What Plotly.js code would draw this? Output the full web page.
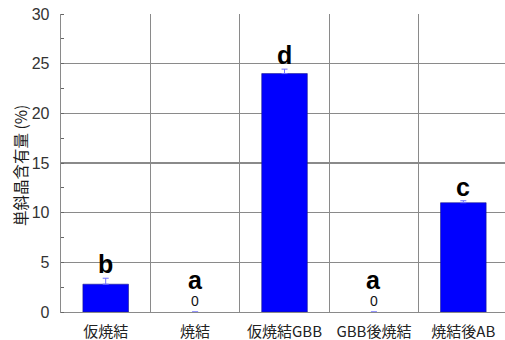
<!DOCTYPE html>
<html>
<head>
<meta charset="utf-8">
<script src="https://cdn.plot.ly/plotly-3.0.1.min.js"></script>
<style>
  html, body { margin: 0; padding: 0; background: #fff; }
  #chart { width: 505px; height: 340px; }
</style>
</head>
<body>
<div id="chart"></div>
<script>
// Monoclinic phase content for each processing route
const categories = ['仮焼結', '焼結', '仮焼結GBB', 'GBB後焼結', '焼結後AB'];
const contents   = [2.8, 0, 24.0, 0, 11.0];
const errors     = [0.6, 0, 0.45, 0, 0.2];
const groups     = ['b', 'a', 'd', 'a', 'c'];

const yTickVals  = [0, 5, 10, 15, 20, 25, 30];

const LETTER_FONT = 'Liberation Sans, Arial, sans-serif';
const CJK_FONT = 'Noto Sans CJK JP, sans-serif';

const barTrace = {
  type: 'bar',
  x: categories,
  y: contents,
  width: 0.51,
  marker: {
    color: '#0000ff',
    // no outline on empty bars so nothing shows at zero
    line: { color: '#1a1a8c', width: contents.map(v => (v === 0 ? 0 : 0.6)) }
  },
  error_y: {
    type: 'data', symmetric: false, visible: true,
    array: errors.map(e => (e === 0 ? null : e)),
    arrayminus: errors.map(e => (e === 0 ? null : 0)),
    color: '#7070ff', thickness: 1, width: 3
  },
  hoverinfo: 'skip'
};

// significance group letters above each bar, plus a "0" on empty bars
const annotations = [];
categories.forEach((c, i) => {
  const top = contents[i] + errors[i];
  if (contents[i] === 0) {
    annotations.push({
      x: c, y: contents[i], xref: 'x', yref: 'y',
      text: String(contents[i]), showarrow: false,
      yanchor: 'bottom', yshift: 1,
      font: { family: LETTER_FONT, size: 14, color: '#111' }
    });
    annotations.push({
      x: c, y: contents[i], xref: 'x', yref: 'y',
      text: '<b>' + groups[i] + '</b>', showarrow: false,
      yanchor: 'bottom', yshift: 16,
      font: { family: LETTER_FONT, size: 25, color: '#000' }
    });
  } else {
    annotations.push({
      x: c, y: top, xref: 'x', yref: 'y',
      text: '<b>' + groups[i] + '</b>', showarrow: false,
      yanchor: 'bottom', yshift: -2,
      font: { family: LETTER_FONT, size: 25, color: '#000' }
    });
  }
});

// y-axis title
annotations.push({
  xref: 'paper', yref: 'paper', x: 0, y: 0.49,
  xanchor: 'center', yanchor: 'middle', xshift: -41,
  textangle: -90, showarrow: false,
  text: '単斜晶含有量 (%)',
  font: { family: CJK_FONT, size: 15.5, color: '#1a1a1a' }
});

const layout = {
  width: 505,
  height: 340,
  margin: { l: 61, r: 0, t: 14, b: 28 },
  paper_bgcolor: '#ffffff',
  plot_bgcolor: '#ffffff',
  showlegend: false,
  bargap: 0.49,
  font: { family: LETTER_FONT, color: '#222' },
  xaxis: {
    type: 'category',
    range: [-0.5, 4.466],
    tickson: 'boundaries',
    ticks: '',
    showgrid: true,
    gridcolor: '#8a8a8a',
    gridwidth: 1.3,
    showline: true,
    linecolor: '#8a8a8a',
    linewidth: 1.3,
    mirror: false,
    tickfont: { family: CJK_FONT, size: 15, color: '#222' },
    ticklabelstandoff: 6,
    zeroline: false,
    fixedrange: true
  },
  yaxis: {
    range: [0, 30],
    tickvals: yTickVals,
    ticktext: yTickVals.map(String),
    ticks: '',
    ticklabelstandoff: 7,
    showgrid: true,
    gridcolor: '#8a8a8a',
    gridwidth: 1.3,
    showline: true,
    linecolor: '#8a8a8a',
    linewidth: 1.3,
    zeroline: false,
    minor: { tick0: 0, dtick: 2.5, ticks: 'inside', ticklen: 3, tickcolor: '#666', showgrid: false },
    tickfont: { family: LETTER_FONT, size: 16, color: '#333' },
    automargin: false,
    fixedrange: true
  },
  annotations: annotations
};

Plotly.newPlot('chart', [barTrace], layout, { displayModeBar: false, staticPlot: true });
</script>
</body>
</html>
